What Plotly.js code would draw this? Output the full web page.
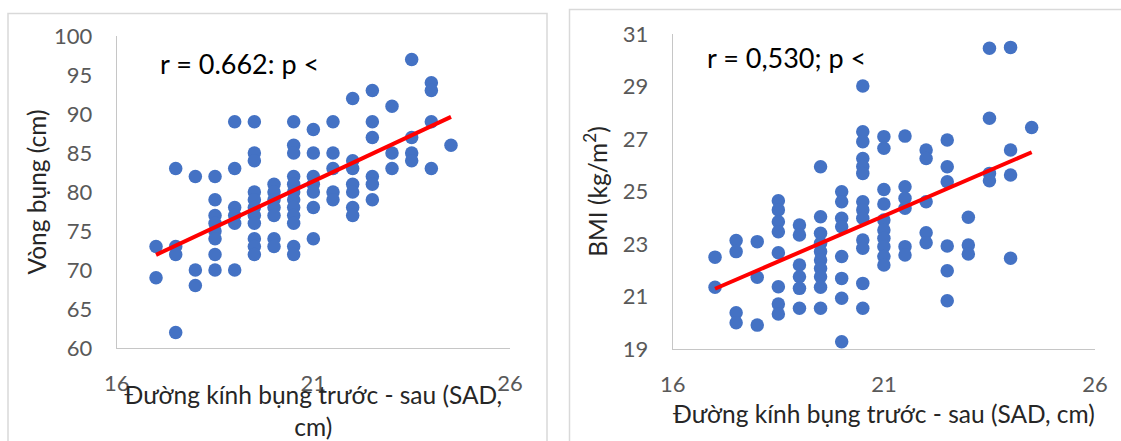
<!DOCTYPE html>
<html>
<head>
<meta charset="utf-8">
<script src="https://cdn.plot.ly/plotly-3.0.1.min.js"></script>
<style>html,body{margin:0;padding:0;background:#fff;}#chart{width:1121px;height:441px;}</style>
</head>
<body>
<div id="chart"></div>
<script>
// ---- Left chart: SAD (cm) vs waist circumference (cm)
const sadWaist = [
  17,17,
  17.5,17.5,17.5,17.5,
  18,18,18,
  18.5,18.5,18.5,18.5,18.5,18.5,18.5,18.5,
  19,19,19,19,19,19,
  19.5,19.5,19.5,19.5,19.5,19.5,19.5,19.5,19.5,19.5,19.5,
  20,20,20,20,20,20,20,
  20.5,20.5,20.5,20.5,20.5,20.5,20.5,20.5,20.5,20.5,20.5,20.5,
  21,21,21,21,21,21,21,
  21.5,21.5,21.5,21.5,21.5,
  22,22,22,22,22,22,22,
  22.5,22.5,22.5,22.5,22.5,22.5,
  23,23,23,
  23.5,23.5,23.5,23.5,
  24,24,24,24,
  24.5
];
const waist = [
  73,69,
  83,73,72,62,
  82,70,68,
  82,79,77,76,75,74,72,70,
  89,83,78,77,76,70,
  89,85,84,80,79,78,77,76,74,73,72,
  81,80,79,78,77,74,73,
  89,86,85,82,81,80,79,78,77,76,73,72,
  88,85,82,81,80,78,74,
  89,85,83,80,79,
  92,84,83,81,80,78,77,
  93,89,87,82,81,79,
  91,85,83,
  97,87,85,84,
  94,93,89,83,
  86
];

// ---- Right chart: SAD (cm) vs BMI (kg/m2)
const sadBmi = [
  17,17,
  17.5,17.5,17.5,17.5,
  18,18,18,
  18.5,18.5,18.5,18.5,18.5,18.5,18.5,18.5,
  19,19,19,19,19,19,
  19.5,19.5,19.5,19.5,19.5,19.5,19.5,19.5,19.5,19.5,
  20,20,20,20,20,20,20,20,
  20.5,20.5,20.5,20.5,20.5,20.5,20.5,20.5,20.5,20.5,20.5,20.5,20.5,
  21,21,21,21,21,21,21,21,21,21,
  21.5,21.5,21.5,21.5,21.5,21.5,
  22,22,22,22,22,
  22.5,22.5,22.5,22.5,22.5,22.5,
  23,23,23,
  23.5,23.5,23.5,23.5,
  24,24,24,24,
  24.5
];
const bmi = [
  22.5,21.35,
  23.13,22.71,20.38,20.0,
  23.09,21.73,19.91,
  24.65,24.3,23.85,23.47,22.67,21.37,20.71,20.33,
  23.72,23.34,22.2,21.75,21.31,20.55,
  25.94,24.04,23.41,23.03,22.71,22.39,22.07,21.75,21.35,20.55,
  24.99,24.61,23.98,23.66,22.52,21.69,20.93,19.28,
  29.02,27.28,26.9,26.26,25.95,25.69,24.61,24.3,23.98,23.15,22.84,21.5,20.55,
  27.09,26.65,25.08,24.52,23.91,23.53,23.22,22.9,22.52,22.2,
  27.11,25.18,24.74,24.36,22.9,22.58,
  26.58,26.26,24.61,23.43,23.05,
  26.96,25.94,25.37,22.92,21.98,20.84,
  24.02,22.96,22.62,
  30.46,27.79,25.69,25.41,
  30.49,26.58,25.63,22.46,
  27.44
];

const xTicks = [16, 21, 26];
const waistTicks = [60, 65, 70, 75, 80, 85, 90, 95, 100];
const bmiTicks = [19, 21, 23, 25, 27, 29, 31];
const labelLeft = "r = 0.662: p <";
const labelRight = "r = 0,530; p <";
const xTitleLeft = "Đường kính bụng trước - sau (SAD,<br>cm)";
const xTitleRight = "Đường kính bụng trước - sau (SAD, cm)";
const yTitleLeft = "Vòng bụng (cm)";
const yTitleRight = "BMI (kg/m<sup>2</sup>)";

// least-squares trend line (as Excel's linear trendline)
function trend(xs, ys) {
  const n = xs.length;
  let mx = 0, my = 0;
  for (let i = 0; i < n; i++) { mx += xs[i]; my += ys[i]; }
  mx /= n; my /= n;
  let sxy = 0, sxx = 0;
  for (let i = 0; i < n; i++) { sxy += (xs[i]-mx)*(ys[i]-my); sxx += (xs[i]-mx)*(xs[i]-mx); }
  const b = sxy / sxx, a = my - b*mx;
  const x0 = Math.min(...xs), x1 = Math.max(...xs);
  return {x: [x0, x1], y: [a + b*x0, a + b*x1]};
}
const tL = trend(sadWaist, waist);
const tR = trend(sadBmi, bmi);

const W = 1121, H = 441;
const px = v => v / W;
const py = v => 1 - v / H;

const FONT = 'Lato, "Open Sans", sans-serif';
const dotColor = '#4472C4';

const traces = [
  {x: sadWaist, y: waist, type: 'scatter', mode: 'markers', xaxis: 'x', yaxis: 'y',
   marker: {color: dotColor, size: 13.5}},
  {x: tL.x, y: tL.y, type: 'scatter', mode: 'lines', xaxis: 'x', yaxis: 'y',
   line: {color: '#FF0000', width: 4}},
  {x: sadBmi, y: bmi, type: 'scatter', mode: 'markers', xaxis: 'x2', yaxis: 'y2',
   marker: {color: dotColor, size: 13.5}},
  {x: tR.x, y: tR.y, type: 'scatter', mode: 'lines', xaxis: 'x2', yaxis: 'y2',
   line: {color: '#FF0000', width: 4}}
];

const tickFont = {family: FONT, size: 22, color: '#595959'};
const titleFont = {family: FONT, size: 24.5, color: '#262626'};

function xAxis(domain, anchor, title, standoff) {
  return {
    domain: domain, anchor: anchor, range: [16, 26], tickvals: xTicks,
    showgrid: false, zeroline: false, showline: true, linecolor: '#c6c6c6', linewidth: 1,
    ticks: 'outside', ticklen: 16, tickcolor: 'rgba(0,0,0,0)',
    tickfont: tickFont, fixedrange: true,
    title: {text: title, font: titleFont, standoff: standoff}
  };
}
function yAxis(domain, anchor, range, vals, title, standoff) {
  return {
    domain: domain, anchor: anchor, range: range, tickvals: vals,
    showgrid: false, zeroline: false, showline: true, linecolor: '#c6c6c6', linewidth: 1,
    ticks: 'outside', ticklen: 19, tickcolor: 'rgba(0,0,0,0)',
    tickfont: tickFont, fixedrange: true,
    title: {text: title, font: titleFont, standoff: standoff}
  };
}

const layout = {
  width: W, height: H,
  margin: {l: 0, r: 0, t: 0, b: 0},
  paper_bgcolor: '#ffffff', plot_bgcolor: '#ffffff',
  showlegend: false,
  font: {family: FONT},
  xaxis: xAxis([px(116.7), px(510)], 'y', xTitleLeft, 6),
  yaxis: yAxis([py(348), py(36)], 'x', [60, 100], waistTicks, yTitleLeft, 0),
  xaxis2: xAxis([px(672.8), px(1095)], 'y2', xTitleRight, 9),
  yaxis2: yAxis([py(349), py(34)], 'x2', [19, 31], bmiTicks, yTitleRight, 8),
  shapes: [
    {type: 'rect', xref: 'paper', yref: 'paper', x0: px(8), x1: px(547), y0: -0.2, y1: py(13.5),
     line: {color: '#d9d9d9', width: 1.5}, fillcolor: 'rgba(0,0,0,0)', layer: 'below'},
    {type: 'rect', xref: 'paper', yref: 'paper', x0: px(569.5), x1: 1.2, y0: -0.2, y1: py(9.5),
     line: {color: '#d9d9d9', width: 1.5}, fillcolor: 'rgba(0,0,0,0)', layer: 'below'}
  ],
  annotations: [
    {xref: 'paper', yref: 'paper', x: px(158), y: py(64), xanchor: 'left', yanchor: 'middle',
     text: labelLeft, showarrow: false, font: {family: FONT, size: 27, color: '#000'}},
    {xref: 'paper', yref: 'paper', x: px(705), y: py(58), xanchor: 'left', yanchor: 'middle',
     text: labelRight, showarrow: false, font: {family: FONT, size: 27, color: '#000'}}
  ]
};

Plotly.newPlot('chart', traces, layout, {displayModeBar: false, staticPlot: true});
</script>
</body>
</html>
